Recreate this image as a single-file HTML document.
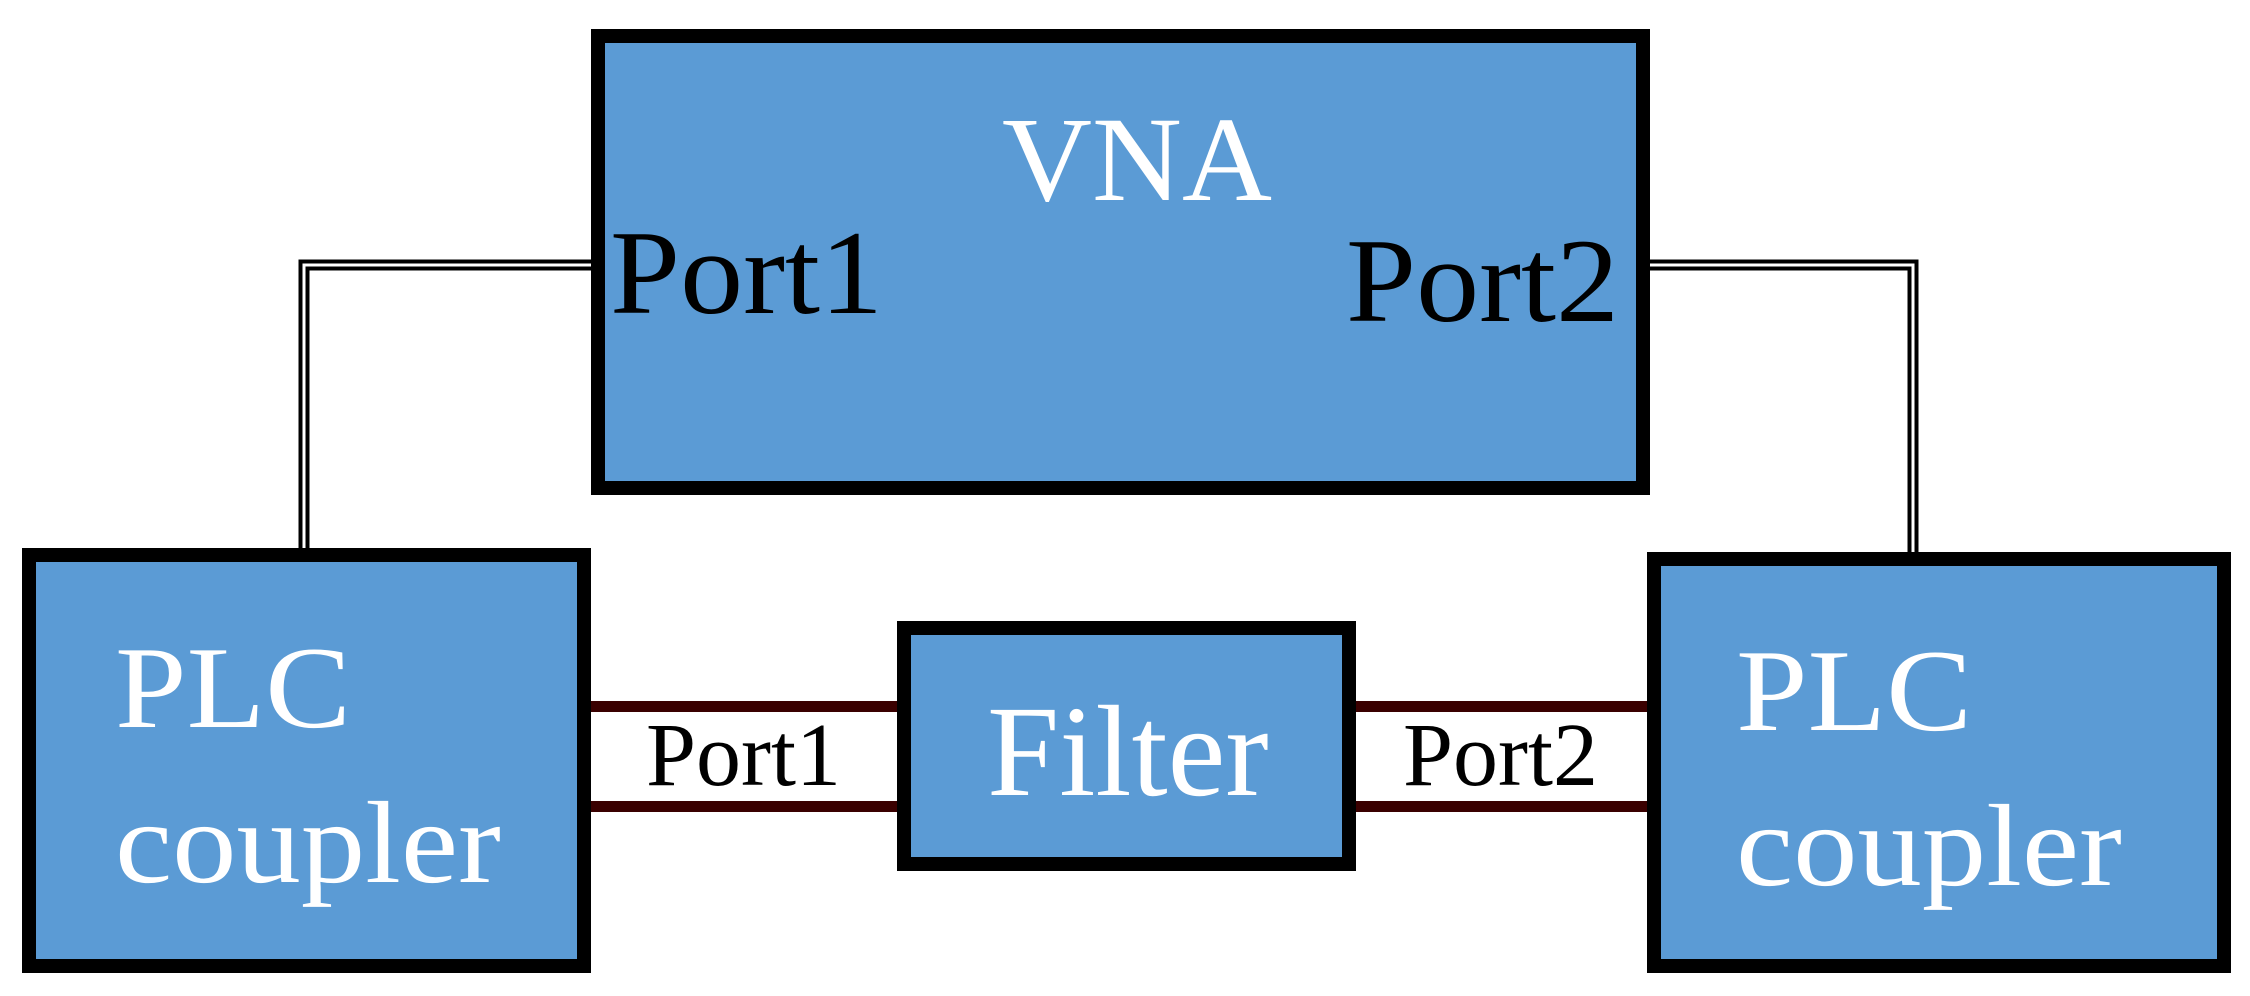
<!DOCTYPE html>
<html><head><style>
body{margin:0;width:2250px;height:996px;background:#fff;overflow:hidden;position:relative;font-family:"Liberation Serif",serif}
.b{position:absolute;background:#5b9bd5;border:14px solid #000;box-sizing:border-box}
.t{position:absolute;white-space:nowrap;line-height:1;transform-origin:0 0}
.w{color:#fff}
.k{color:#000}
.br{position:absolute;height:11px;background:#3a0000}
</style></head><body>
<svg width="2250" height="996" style="position:absolute;left:0;top:0">
<polyline points="596,265 304,265 304,552" fill="none" stroke="#000" stroke-width="11"/>
<polyline points="596,265 304,265 304,552" fill="none" stroke="#fff" stroke-width="3"/>
<polyline points="1645,265 1913,265 1913,556" fill="none" stroke="#000" stroke-width="11"/>
<polyline points="1645,265 1913,265 1913,556" fill="none" stroke="#fff" stroke-width="3"/>
</svg>
<div class="br" style="left:585px;top:701px;width:320px"></div>
<div class="br" style="left:585px;top:801px;width:320px"></div>
<div class="br" style="left:1350px;top:701px;width:303px"></div>
<div class="br" style="left:1350px;top:801px;width:303px"></div>
<div class="b" style="left:591px;top:29px;width:1059px;height:466px"></div>
<div class="b" style="left:22px;top:548px;width:569px;height:425px"></div>
<div class="b" style="left:1647px;top:552px;width:584px;height:421px"></div>
<div class="b" style="left:897px;top:621px;width:459px;height:250px"></div>
<div class="t w" style="left:1002px;top:100px;font-size:121px;transform:scaleX(1.03)">VNA</div>
<div class="t k" style="left:610px;top:213px;font-size:120px;transform:scaleX(1.05)">Port1</div>
<div class="t k" style="left:1346px;top:221px;font-size:120px;transform:scaleX(1.05)">Port2</div>
<div class="t w" style="left:115px;top:630px;font-size:117px;transform:scaleX(1.1)">PLC</div>
<div class="t w" style="left:115px;top:785px;font-size:117px;transform:scaleX(1.1)">coupler</div>
<div class="t w" style="left:1736px;top:633px;font-size:117px;transform:scaleX(1.1)">PLC</div>
<div class="t w" style="left:1736px;top:788px;font-size:117px;transform:scaleX(1.1)">coupler</div>
<div class="t w" style="left:987px;top:687px;font-size:130px">Filter</div>
<div class="t k" style="left:646px;top:711px;font-size:90px">Port1</div>
<div class="t k" style="left:1403px;top:711px;font-size:90px">Port2</div>
</body></html>
